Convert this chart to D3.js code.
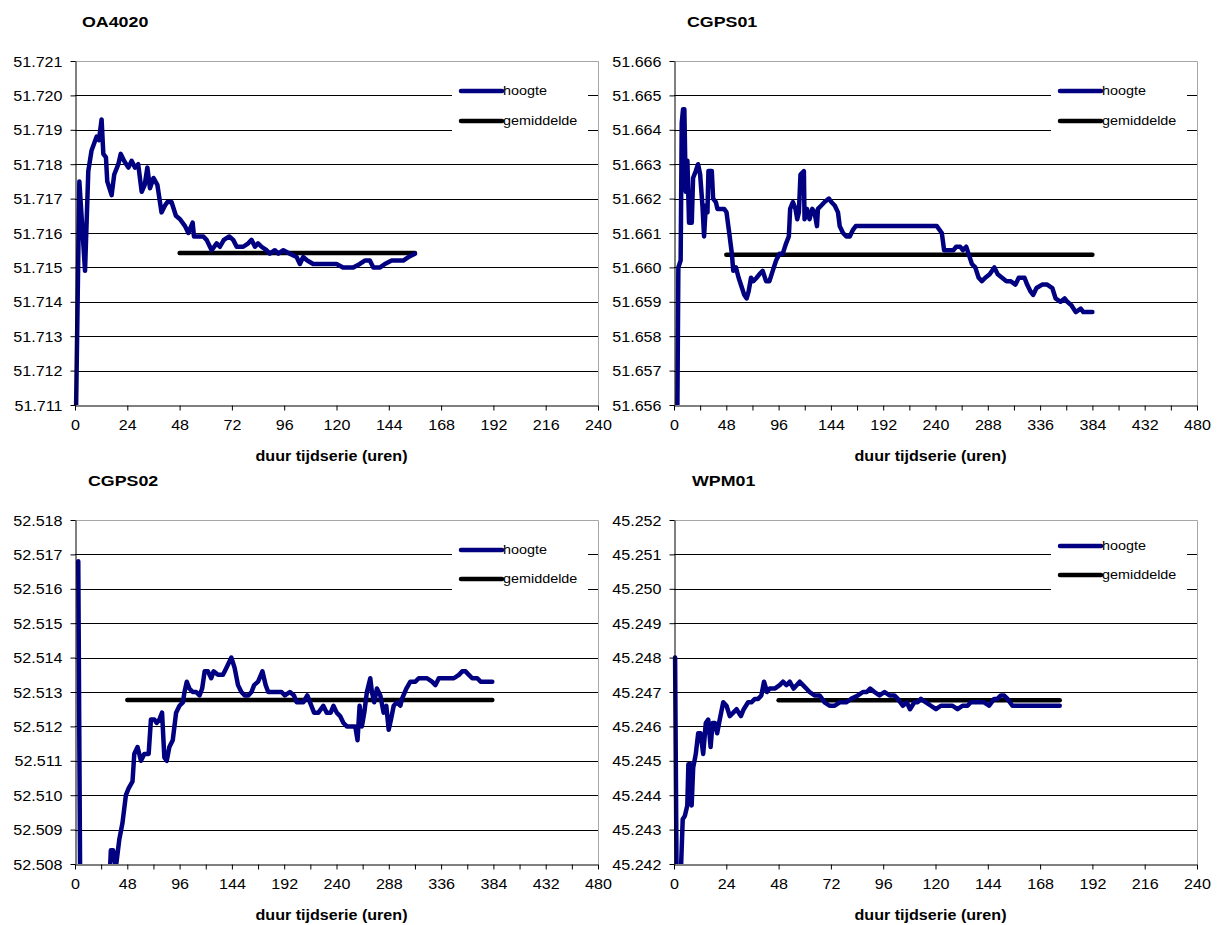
<!DOCTYPE html>
<html>
<head>
<meta charset="utf-8">
<script src="https://cdn.jsdelivr.net/npm/d3@7"></script>
<style>
	body { margin: 0; background: #fff; }
	text { font-family: "Liberation Sans", Arial, sans-serif; fill: #000; }
</style>
</head>
<body>
<svg id="mainsvg" width="1220" height="925"></svg>
<script>
// ---- data (hours since start, height in m) ----
var oaHours = [0.4, 2.0, 4.6, 6.1, 7.6, 9.9, 11.0, 12.2, 13.0, 14.2, 14.8, 16.8, 18.0, 19.9, 21.0, 22.5, 24.5, 26.0, 27.5, 29.0, 30.6, 32.0, 33.2, 34.4, 36.0, 37.8, 39.7, 41.3, 42.4, 44.3, 46.3, 48.2, 50.5, 52.0, 54.0, 54.6, 56.6, 58.9, 60.4, 62.7, 65.0, 66.5, 68.3, 70.8, 72.6, 74.2, 77.2, 79.5, 81.0, 82.6, 84.0, 85.6, 87.9, 89.4, 91.7, 93.3, 95.6, 98.6, 101.7, 103.2, 104.7, 106.6, 109.3, 114.0, 120.0, 123.0, 127.7, 130.7, 133.0, 135.3, 136.9, 140.0, 142.2, 145.3, 150.6, 153.0, 156.0];
var oaHeights = [51.7105, 51.7175, 51.7149, 51.7178, 51.7184, 51.7188, 51.7187, 51.7193, 51.7183, 51.7182, 51.7175, 51.7171, 51.7177, 51.7180, 51.7183, 51.7181, 51.7179, 51.7181, 51.7179, 51.7180, 51.7172, 51.7174, 51.7179, 51.7173, 51.7176, 51.7174, 51.7166, 51.7168, 51.7169, 51.7169, 51.7165, 51.7164, 51.7162, 51.7160, 51.7163, 51.7159, 51.7159, 51.7159, 51.7158, 51.7155, 51.7157, 51.7156, 51.7158, 51.7159, 51.7158, 51.7156, 51.7156, 51.7157, 51.7158, 51.7156, 51.7157, 51.7156, 51.7155, 51.7154, 51.7155, 51.7154, 51.7155, 51.7154, 51.7153, 51.7151, 51.7153, 51.7152, 51.7151, 51.7151, 51.7151, 51.7150, 51.7150, 51.7151, 51.7152, 51.7152, 51.7150, 51.7150, 51.7151, 51.7152, 51.7152, 51.7153, 51.7154];
var oaMeanHours = [48, 156];
var oaMean = 51.71542;

var cg1Hours = [3.0, 4.0, 6.1, 7.1, 8.3, 9.5, 10.8, 12.3, 13.8, 16.3, 17.5, 20.0, 22.1, 24.0, 26.1, 27.6, 29.2, 30.7, 31.6, 34.7, 35.9, 38.4, 39.9, 43.0, 46.1, 48.2, 50.7, 53.1, 54.4, 56.8, 59.3, 62.4, 64.5, 66.7, 68.5, 70.7, 72.8, 75.9, 78.3, 81.4, 84.5, 87.6, 90.6, 93.7, 96.8, 99.8, 102.9, 105.4, 106.6, 109.1, 111.5, 113.1, 114.6, 116.1, 119.2, 119.8, 122.0, 124.4, 126.9, 129.0, 131.2, 132.1, 135.2, 138.2, 142.2, 144.4, 147.5, 150.5, 152.1, 155.1, 158.2, 161.3, 164.4, 166.8, 241.2, 245.8, 247.9, 251.9, 256.5, 259.0, 262.7, 265.1, 268.2, 270.3, 273.4, 276.5, 279.6, 282.6, 285.7, 289.7, 294.0, 297.1, 301.1, 305.1, 308.8, 313.4, 316.4, 321.7, 324.1, 327.2, 329.6, 332.7, 337.9, 342.5, 347.2, 350.2, 354.8, 358.5, 361.0, 364.7, 368.7, 373.3, 375.7, 379.4, 384.0];
var cg1Heights = [51.6555, 51.6600, 51.6602, 51.6642, 51.6646, 51.6646, 51.6622, 51.6631, 51.6613, 51.6613, 51.6626, 51.6628, 51.6630, 51.6627, 51.6618, 51.6609, 51.6618, 51.6616, 51.6628, 51.6628, 51.6620, 51.6619, 51.6617, 51.6617, 51.6617, 51.6616, 51.6610, 51.6604, 51.6599, 51.6600, 51.6597, 51.6594, 51.6592, 51.6591, 51.6593, 51.6597, 51.6596, 51.6597, 51.6598, 51.6599, 51.6596, 51.6596, 51.6599, 51.6602, 51.6604, 51.6604, 51.6607, 51.6609, 51.6617, 51.6619, 51.6617, 51.6614, 51.6616, 51.6627, 51.6628, 51.6614, 51.6617, 51.6614, 51.6617, 51.6616, 51.6612, 51.6617, 51.6618, 51.6619, 51.6620, 51.6619, 51.6618, 51.6616, 51.6612, 51.6610, 51.6609, 51.6609, 51.6611, 51.6612, 51.6612, 51.6610, 51.6605, 51.6605, 51.6605, 51.6606, 51.6606, 51.6605, 51.6606, 51.6604, 51.6601, 51.6600, 51.6597, 51.6596, 51.6597, 51.6598, 51.6600, 51.6598, 51.6597, 51.6596, 51.6596, 51.6595, 51.6597, 51.6597, 51.6595, 51.6593, 51.6592, 51.6594, 51.6595, 51.6595, 51.6594, 51.6591, 51.6590, 51.6591, 51.6590, 51.6589, 51.6587, 51.6588, 51.6587, 51.6587, 51.6587];
var cg1MeanHours = [48, 384];
var cg1Mean = 51.66037;

var cg2Hours = [3.0, 5.0, 31.0, 32.9, 35.0, 37.5, 40.6, 43.6, 46.7, 49.2, 52.8, 54.4, 57.4, 60.5, 63.6, 67.6, 69.7, 72.8, 75.0, 77.4, 79.9, 82.0, 84.2, 86.6, 89.7, 92.8, 95.9, 99.0, 100.5, 102.6, 105.0, 108.0, 111.2, 114.3, 116.7, 119.0, 122.0, 125.0, 127.2, 131.2, 135.8, 138.9, 143.5, 146.5, 149.6, 152.7, 155.8, 159.0, 162.0, 164.4, 168.0, 172.0, 175.0, 177.3, 180.3, 185.0, 189.6, 192.6, 197.2, 201.0, 203.4, 209.5, 213.2, 215.7, 219.4, 223.4, 227.9, 231.0, 234.7, 237.2, 240.2, 243.3, 246.4, 249.5, 254.1, 257.2, 259.3, 261.2, 263.3, 265.5, 267.9, 271.0, 272.5, 274.6, 277.1, 280.2, 283.2, 285.7, 287.9, 290.0, 292.5, 295.5, 298.6, 300.1, 304.1, 307.8, 312.4, 315.5, 318.5, 323.1, 327.7, 330.8, 333.9, 338.5, 343.1, 347.7, 352.3, 355.4, 358.4, 361.5, 364.6, 369.2, 372.3, 378.4, 383.0];
var cg2Heights = [52.5168, 52.5060, 52.5070, 52.5084, 52.5084, 52.5079, 52.5087, 52.5092, 52.5100, 52.5102, 52.5104, 52.5112, 52.5114, 52.5110, 52.5112, 52.5112, 52.5122, 52.5122, 52.5121, 52.5122, 52.5124, 52.5111, 52.5110, 52.5114, 52.5116, 52.5124, 52.5126, 52.5127, 52.5130, 52.5133, 52.5131, 52.5130, 52.5130, 52.5129, 52.5131, 52.5136, 52.5136, 52.5134, 52.5136, 52.5135, 52.5135, 52.5137, 52.5140, 52.5137, 52.5132, 52.5130, 52.5129, 52.5129, 52.5130, 52.5132, 52.5133, 52.5136, 52.5132, 52.5130, 52.5130, 52.5130, 52.5130, 52.5129, 52.5130, 52.5129, 52.5127, 52.5127, 52.5129, 52.5127, 52.5124, 52.5124, 52.5126, 52.5124, 52.5124, 52.5126, 52.5124, 52.5123, 52.5121, 52.5120, 52.5120, 52.5120, 52.5116, 52.5126, 52.5120, 52.5124, 52.5130, 52.5134, 52.5130, 52.5127, 52.5131, 52.5129, 52.5124, 52.5126, 52.5119, 52.5122, 52.5126, 52.5127, 52.5126, 52.5128, 52.5131, 52.5133, 52.5133, 52.5134, 52.5134, 52.5134, 52.5133, 52.5132, 52.5134, 52.5134, 52.5134, 52.5134, 52.5135, 52.5136, 52.5136, 52.5135, 52.5134, 52.5134, 52.5133, 52.5133, 52.5133];
var cg2MeanHours = [48, 383];
var cg2Mean = 52.51277;

var wpHours = [0.5, 1.2, 3.0, 4.0, 5.0, 6.1, 6.6, 7.6, 8.1, 8.8, 10.0, 11.1, 12.2, 13.4, 14.6, 15.7, 16.8, 17.7, 18.8, 19.8, 21.0, 22.6, 24.1, 25.6, 27.2, 28.7, 30.7, 32.0, 34.0, 35.5, 37.1, 38.6, 40.1, 41.3, 42.7, 43.9, 46.2, 48.5, 50.0, 51.6, 53.1, 54.9, 57.7, 59.2, 60.7, 62.2, 64.5, 66.8, 69.1, 71.4, 73.7, 76.0, 79.0, 81.3, 84.4, 86.7, 88.5, 90.0, 92.0, 94.3, 96.6, 98.9, 101.1, 102.7, 105.0, 106.8, 108.3, 110.3, 111.8, 113.3, 115.6, 117.9, 120.2, 122.5, 127.8, 130.1, 132.4, 134.7, 136.2, 142.3, 144.6, 146.9, 148.4, 150.0, 151.5, 153.0, 155.3, 166.0, 177.0];
var wpHeights = [45.2480, 45.2415, 45.2415, 45.2433, 45.2434, 45.2437, 45.2449, 45.2449, 45.2437, 45.2448, 45.2452, 45.2458, 45.2458, 45.2452, 45.2461, 45.2462, 45.2454, 45.2461, 45.2461, 45.2458, 45.2462, 45.2467, 45.2466, 45.2463, 45.2464, 45.2465, 45.2463, 45.2465, 45.2467, 45.2467, 45.2468, 45.2468, 45.2469, 45.2473, 45.2470, 45.2471, 45.2471, 45.2472, 45.2473, 45.2472, 45.2473, 45.2471, 45.2473, 45.2472, 45.2471, 45.2470, 45.2469, 45.2469, 45.2467, 45.2466, 45.2466, 45.2467, 45.2467, 45.2468, 45.2469, 45.2470, 45.2470, 45.2471, 45.2470, 45.2469, 45.2470, 45.2469, 45.2469, 45.2468, 45.2466, 45.2467, 45.2465, 45.2467, 45.2467, 45.2468, 45.2467, 45.2466, 45.2465, 45.2466, 45.2466, 45.2465, 45.2466, 45.2466, 45.2467, 45.2467, 45.2466, 45.2468, 45.2468, 45.2469, 45.2469, 45.2468, 45.2466, 45.2466, 45.2466];
var wpMeanHours = [48, 177];
var wpMean = 45.24676;

var legendLabels = ["hoogte", "gemiddelde"];
var xTitle = "duur tijdserie (uren)";

// ---- drawing ----
var SX = 1.15;   // text in the source is a bit wider than Arial
var svg = d3.select("#mainsvg");

function panel(o) {
	var g = svg.append("g");
	var left = o.left, right = o.left + 523, top = o.top, bottom = o.top + 344;

	var x = d3.scaleLinear().domain([0, o.xMax]).range([left, right]);
	var y = d3.scaleLinear().domain([o.yMin, o.yMin + 0.010]).range([bottom, top]);
	var yTicks = d3.range(11).map(function(i) { return o.yMin + i * 0.001; });

	// gridlines
	g.append("g").selectAll("line")
		.data(yTicks.slice(1, 10))
		.enter().append("line")
		.attr("x1", left).attr("x2", right)
		.attr("y1", function(d) { return Math.round(y(d)) + 0.5; })
		.attr("y2", function(d) { return Math.round(y(d)) + 0.5; })
		.attr("stroke", "#000").attr("stroke-width", 1);

	// grey plot frame (top, right)
	g.append("path")
		.attr("d", "M" + left + "," + (Math.round(top) + 0.5) + "H" + (right + 0.5) + "V" + bottom)
		.attr("fill", "none").attr("stroke", "#a6a6a6");

	// legend
	var lg = g.append("g");
	lg.append("rect")
		.attr("x", right - 146).attr("y", top + 12)
		.attr("width", 136).attr("height", 70)
		.attr("fill", "#fff");
	var colors = ["#000080", "#000"];
	legendLabels.forEach(function(lab, i) {
		var ly = top + o.legendY[i];
		lg.append("line")
			.attr("x1", right - 137).attr("x2", right - 96)
			.attr("y1", ly).attr("y2", ly)
			.attr("stroke", colors[i]).attr("stroke-width", 4.5)
			.attr("stroke-linecap", "round");
		lg.append("text")
			.attr("transform", "translate(" + (right - 95) + "," + (ly + 4) + ") scale(" + SX + ",1)")
			.style("font-size", "12.5px")
			.text(lab);
	});

	// data
	var clipId = "clip" + o.id;
	g.append("clipPath").attr("id", clipId)
		.append("rect").attr("x", left - 3).attr("y", top).attr("width", right - left + 3).attr("height", bottom - top);

	var pts = o.hours.map(function(h, i) { return [h, o.heights[i]]; });
	var line = d3.line()
		.x(function(d) { return x(d[0]); })
		.y(function(d) { return y(d[1]); });

	var plot = g.append("g").attr("clip-path", "url(#" + clipId + ")");
	plot.append("path")
		.datum(o.meanHours.map(function(h) { return [h, o.mean]; }))
		.attr("d", line)
		.attr("fill", "none").attr("stroke", "#000").attr("stroke-width", 4.5)
		.attr("stroke-linecap", "round");
	plot.append("path")
		.datum(pts)
		.attr("d", line)
		.attr("fill", "none").attr("stroke", "#000080").attr("stroke-width", 4.5)
		.attr("stroke-linejoin", "round").attr("stroke-linecap", "round");

	// axes
	var yAxis = g.append("g")
		.attr("transform", "translate(" + (left + 0.5) + ",0)")
		.call(d3.axisLeft(y).tickValues(yTicks).tickSize(5).tickSizeOuter(0).tickFormat(d3.format(".3f")));
	yAxis.selectAll("text")
		.attr("x", null).attr("dy", null)
		.attr("transform", "translate(-13,5) scale(" + SX + ",1)")
		.style("font-size", "14px");

	var xAxis = g.append("g")
		.attr("transform", "translate(0," + (bottom + 0.5) + ")")
		.call(d3.axisBottom(x).tickValues(d3.range(0, o.xMax + 1, 24)).tickSize(5).tickSizeOuter(0)
			.tickFormat(function(d) { return d % o.labelStep === 0 ? d : ""; }));
	xAxis.selectAll("text")
		.attr("y", null).attr("dy", null)
		.attr("transform", "translate(0,24) scale(" + SX + ",1)")
		.style("font-size", "14px");

	[yAxis, xAxis].forEach(function(a) {
		a.select(".domain").attr("stroke", "#000");
		a.selectAll(".tick line").attr("stroke", "#000");
		a.selectAll("text").attr("fill", "#000").style("font-family", "'Liberation Sans', Arial, sans-serif");
	});

	// titles
	g.append("text")
		.attr("transform", "translate(" + o.titleX + "," + (top - 34) + ") scale(" + SX + ",1)")
		.style("font-size", "15.5px").style("font-weight", "bold")
		.text(o.title);
	g.append("text")
		.attr("transform", "translate(" + ((left + right) / 2 - 5) + "," + (bottom + 56) + ") scale(" + SX + ",1)")
		.attr("text-anchor", "middle")
		.style("font-size", "14px").style("font-weight", "bold")
		.text(xTitle);
}

panel({ id: 1, title: "OA4020", titleX: 82, left: 75, top: 61, xMax: 240, labelStep: 24, yMin: 51.711,
	hours: oaHours, heights: oaHeights, meanHours: oaMeanHours, mean: oaMean, legendY: [30, 60] });
panel({ id: 2, title: "CGPS01", titleX: 687, left: 674, top: 61, xMax: 480, labelStep: 48, yMin: 51.656,
	hours: cg1Hours, heights: cg1Heights, meanHours: cg1MeanHours, mean: cg1Mean, legendY: [30, 60] });
panel({ id: 3, title: "CGPS02", titleX: 88, left: 75, top: 520, xMax: 480, labelStep: 48, yMin: 52.508,
	hours: cg2Hours, heights: cg2Heights, meanHours: cg2MeanHours, mean: cg2Mean, legendY: [30, 59] });
panel({ id: 4, title: "WPM01", titleX: 692, left: 674, top: 520, xMax: 240, labelStep: 24, yMin: 45.242,
	hours: wpHours, heights: wpHeights, meanHours: wpMeanHours, mean: wpMean, legendY: [26, 55] });
</script>
</body>
</html>
